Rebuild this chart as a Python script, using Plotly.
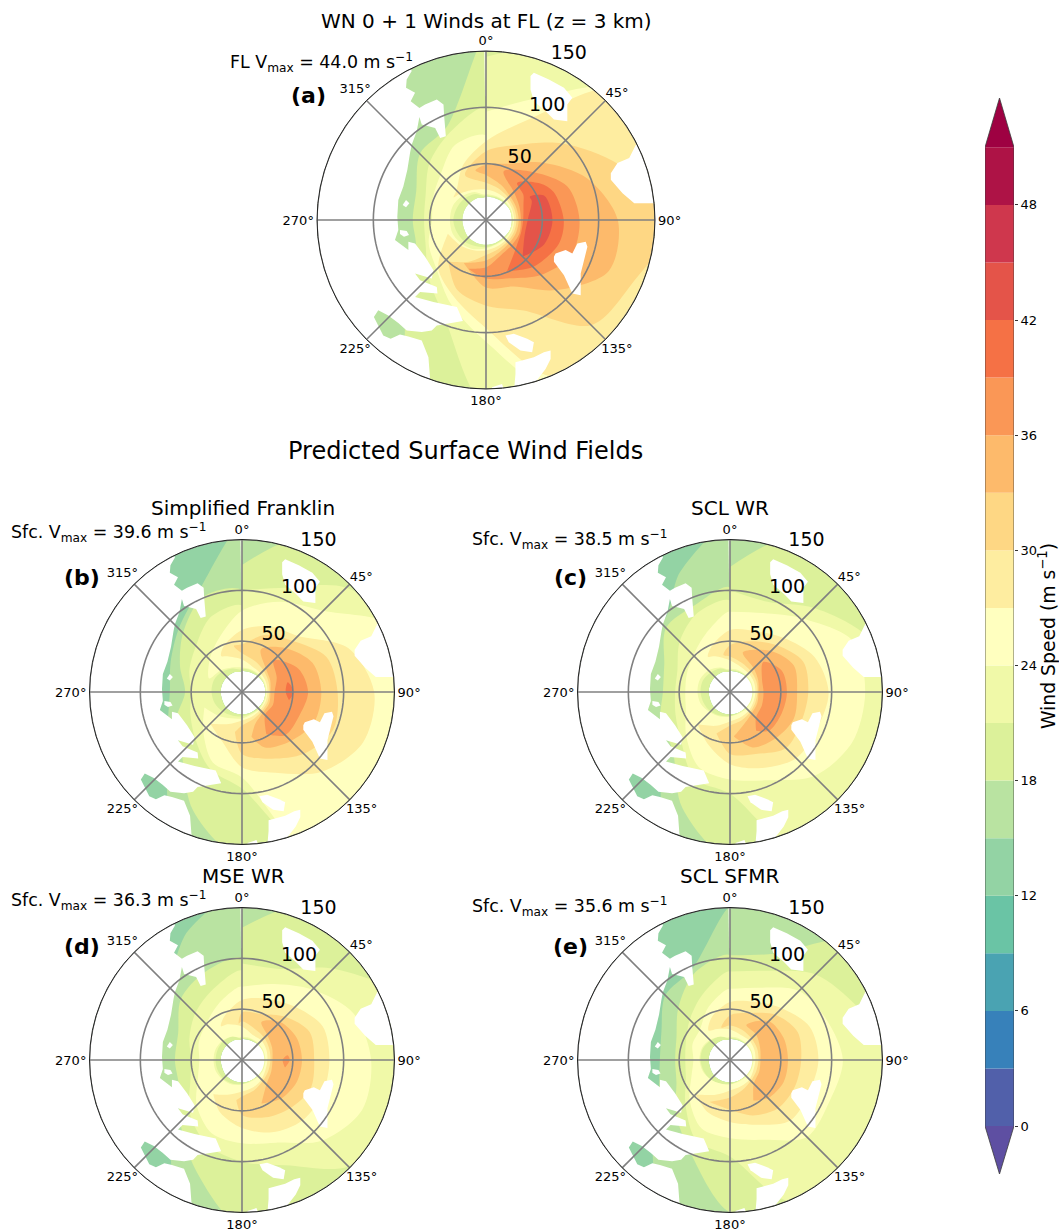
import numpy as np
import plotly.graph_objects as go
import plotly.express as px
from plotly.colors import sample_colorscale

W, H = 1059, 1232
AZ = [0, 22.5, 45, 67.5, 90, 112.5, 135, 157.5, 180, 202.5, 225, 247.5, 270, 292.5, 315, 337.5, 360]
HOLE = [21, 21, 22, 23, 23, 23, 22, 22, 22, 22, 22, 21, 21, 21, 21, 21, 21]
FAR = [165] * 17
T27 = [360, 382.5, 405, 427.5, 450, 472.5, 495, 517.5, 540]

# wind contours: level -> (azimuth, outer radius km, inner radius km)
PANEL_A = {
    15: (AZ, FAR, HOLE),
    18: (AZ, [165] * 10 + [100, 67, 65, 67, 83, 90, 165], HOLE),
    21: (AZ, [145] + [165] * 8 + [95, 72, 58, 55, 58, 71, 84, 100],
         [22, 22, 23, 23, 23, 23, 23, 23, 24, 25, 27, 28, 29, 28, 27, 25, 22]),
    24: (AZ, [96, 117, 165, 165, 165, 165, 165, 165, 108, 81, 62, 55, 48, 51, 57, 72, 75],
         [23, 23, 23.5, 24, 24, 24, 23.5, 23.5, 25, 28, 30, 32, 32, 32, 30, 27, 23]),
    27: ([305, 315, 337.5] + T27 + [562.5, 585, 610],
         [35, 37, 53, 70, 96, 165, 165, 165, 165, 165, 150, 96, 74, 60, 36],
         [35, 33, 29, 27, 26, 25.5, 25, 25, 25, 25, 25.5, 27, 29, 32, 36]),
    30: ([335] + T27 + [562.5, 582],
         [44, 61, 72, 96, 128, 165, 142, 132, 87, 76, 67, 50],
         [44, 33, 30, 28, 27, 27, 27, 27, 28, 31, 40, 50]),
    33: ([348] + T27 + [567],
         [45, 49, 54, 72, 97, 117, 118, 88, 64, 60, 43],
         [45, 40, 34, 30, 29, 29, 29, 29, 31, 36, 43]),
    36: ([20, 45, 67.5, 90, 112.5, 135, 157.5, 180, 200],
         [46, 60, 78, 83, 82, 69, 56, 52, 46], [46, 35, 32, 31, 32, 32, 34, 42, 46]),
    39: ([40, 56, 67.5, 90, 108, 135, 157.5],
         [43, 58, 65, 69, 68, 59, 49], [43, 40, 36, 33, 33, 37, 49]),
    42: ([62, 67.5, 90, 112.5, 135], [44, 56, 59, 56, 46], [44, 44, 37, 37, 46]),
}
PANEL_B = {
    12: (AZ, FAR, HOLE),
    15: (AZ, [165] * 10 + [105, 79, 71, 76, 88, 109, 165], HOLE),
    18: (AZ, [125] + [165] * 8 + [126, 84, 70, 56, 66, 82, 101, 100], HOLE),
    21: (AZ, [100, 111, 145, 165, 165, 165, 165, 165, 95, 82, 65, 55, 50, 56, 64, 80, 85],
         [23, 23, 23, 23, 23, 23, 23, 23, 24, 25, 27, 29, 30, 30, 28, 25, 23]),
    24: ([292.5, 315, 337.5] + T27 + [562.5, 585, 607.5],
         [35, 45, 58, 80, 96, 113, 165, 165, 165, 165, 165, 84, 75, 54, 40],
         [35, 30, 26, 24, 24, 24, 24, 24, 24, 24, 24, 26, 28, 33, 40]),
    27: ([330, 337.5] + T27 + [562.5, 585],
         [41, 48, 61, 70, 78, 113, 130, 129, 111, 86, 74, 52, 44],
         [41, 38, 32, 27, 26, 25.5, 25, 25, 25, 26, 28, 34, 44]),
    30: ([350] + T27 + [550],
         [46, 47, 61, 71, 90, 94, 97, 86, 71, 61, 40],
         [46, 38, 33, 30, 28, 27, 27, 27, 29, 33, 40]),
    33: ([24, 45, 67.5, 90, 112.5, 135, 157.5, 168],
         [46, 61, 75, 78, 77, 68, 59, 45], [46, 33, 30, 28, 29, 29, 34, 45]),
    36: ([45, 67.5, 90, 112.5, 135, 150], [44, 60, 65, 61, 60, 48], [44, 37, 32, 33, 32, 48]),
    39: ([78, 90, 100], [46, 51, 47], [46, 43, 47]),
}
PANEL_C = {
    12: (AZ, FAR, HOLE),
    15: (AZ, [165] * 10 + [105, 165, 165, 165, 96, 128, 165], HOLE),
    18: (AZ, [123] + [165] * 8 + [123, 80, 74, 66, 70, 89, 92, 103], HOLE),
    21: (AZ, [100, 96, 117, 145, 165, 165, 165, 165, 100, 92, 68, 58, 54, 56, 70, 84, 90],
         [22, 22, 22, 22, 22, 22, 22, 22, 24, 25, 27, 28, 29, 29, 27, 25, 22]),
    24: (AZ, [79, 84, 102, 131, 133, 130, 117, 94, 86, 80, 61, 47, 44, 46, 51, 62, 79],
         [23, 23, 23, 23, 23, 23, 23, 23, 24, 26, 28, 31, 32, 32, 30, 26, 23]),
    27: ([328, 337.5] + T27 + [562.5, 585],
         [41, 48, 61, 65, 75, 90, 97, 93, 92, 81, 71, 56, 45],
         [41, 38, 31, 27, 26, 25.5, 25, 25, 26, 27, 29, 36, 45]),
    30: ([350] + T27 + [558],
         [37, 46, 54, 65, 78, 77, 76, 78, 66, 61, 43],
         [37, 35, 31, 29, 28, 27, 27, 28, 30, 33, 43]),
    33: ([18, 45, 67.5, 90, 112.5, 135, 157.5, 175],
         [41, 57, 68, 66, 68, 64, 59, 44], [41, 33, 30, 28, 29, 30, 35, 44]),
    36: ([48, 67.5, 90, 112.5, 135, 146], [44, 55, 56, 55, 54, 46], [44, 34, 33, 34, 36, 46]),
}
PANEL_D = {
    12: (AZ, FAR, HOLE),
    15: (AZ, [165] * 10 + [108, 165, 165, 165, 110, 138, 165], HOLE),
    18: (AZ, [130] + [165] * 8 + [118, 86, 67, 66, 68, 85, 94, 100], HOLE),
    21: (AZ, [95, 97, 127, 165, 165, 165, 148, 112, 100, 90, 73, 55, 50, 56, 65, 75, 88],
         [22, 22, 22, 22, 22, 22, 22, 22, 24, 25, 26, 26, 26, 26, 26, 25, 22]),
    24: (AZ, [72, 81, 98, 119, 127, 128, 112, 88, 82, 78, 63, 47, 42, 46, 50, 60, 72],
         [23, 23, 23, 23, 23, 23, 23, 23, 24, 26, 27, 28, 28, 28, 27, 25, 23]),
    27: ([328, 337.5] + T27 + [562.5, 580],
         [39, 46, 59, 65, 74, 86, 86, 86, 84, 77, 67, 56, 44],
         [39, 38, 33, 27, 27, 26, 25, 25, 27, 29, 31, 37, 44]),
    30: ([355] + T27 + [548],
         [36, 47, 49, 60, 72, 71, 73, 67, 61, 54, 40],
         [36, 38, 33, 31, 29, 28, 28, 29, 32, 36, 40]),
    33: ([27, 45, 67.5, 90, 112.5, 135, 156], [42, 53, 58, 59, 58, 54, 47], [42, 35, 32, 30, 31, 34, 47]),
    36: ([84, 90, 100], [45, 47, 43], [45, 40, 43]),
}
PANEL_E = {
    12: (AZ, FAR, HOLE),
    15: (AZ, [165] * 10 + [108, 76, 69, 73, 90, 97, 150], HOLE),
    18: (AZ, [103, 113, 165, 165, 165, 165, 165, 165, 150, 100, 75, 57, 54, 57, 72, 92, 103], HOLE),
    21: (AZ, [87, 95, 119, 136, 165, 165, 165, 150, 95, 86, 62, 47, 44, 47, 56, 70, 87],
         [22, 22, 22, 22, 22, 22, 22, 22, 24, 25, 27, 28, 29, 29, 27, 25, 22]),
    24: (AZ, [70, 77, 96, 103, 111, 106, 107, 85, 77, 73, 56, 41, 36, 40, 42, 56, 70],
         [23, 23, 23, 23, 23, 23, 23, 23, 24, 25, 27, 29, 30, 30, 28, 25, 23]),
    27: ([324, 337.5] + T27 + [562.5, 585],
         [36, 46, 57, 62, 72, 85, 87, 84, 84, 69, 61, 56, 48],
         [36, 33, 30, 27, 27, 26, 25, 25, 27, 28, 30, 37, 48]),
    30: ([345] + T27 + [566],
         [33, 44, 50, 63, 72, 70, 69, 67, 59, 49, 46],
         [33, 34, 32, 30, 29, 28, 28, 29, 32, 37, 46]),
    33: ([25, 45, 67.5, 90, 112.5, 135, 150], [38, 54, 57, 57, 57, 53, 46], [38, 36, 32, 30, 31, 33, 46]),
}

# land / no-data outlines, east and south offsets read with the outer ring = 505 units
RING_UNITS = 505.0
LAND_WEST = [(306, 67), (335, 125), (320, 150), (318, 175), (345, 190), (332, 215), (358, 235), (375, 225), (410, 210),
             (430, 225), (432, 260), (437, 320), (420, 325), (405, 295), (365, 285), (358, 262), (350, 305), (335, 345),
             (330, 370), (322, 420), (310, 470), (295, 510), (292, 560), (295, 600), (285, 630), (325, 660), (325, 635),
             (345, 640), (375, 680), (400, 720), (395, 745), (345, 730), (360, 750), (410, 770), (412, 790), (360, 785),
             (345, 800), (400, 815), (470, 830), (488, 872), (410, 885), (395, 900), (365, 905), (320, 900), (295, 878),
             (265, 855), (235, 840), (222, 860), (250, 915), (272, 925), (300, 912), (325, 918), (365, 930), (385, 980),
             (390, 1046), (375, 1100), (161, 966), (-3, 570), (161, 174), (306, 67)]
LAND_OTHER = [
    [(318, 510), (328, 520), (318, 532), (308, 525)],
    [(300, 600), (320, 603), (327, 615), (312, 620), (300, 612)],
    [(552, 65), (556, 65), (556, 200), (554, 200)],
    [(690, 140), (700, 130), (745, 150), (790, 175), (815, 205), (800, 225), (800, 275), (760, 270), (735, 245), (700, 215), (690, 180)],
    [(1005, 345), (985, 385), (950, 400), (930, 430), (930, 450), (965, 490), (1000, 520), (1090, 520), (1090, 360)],
    [(760, 680), (765, 670), (795, 660), (815, 670), (830, 640), (855, 635), (860, 650), (850, 690), (840, 730), (840, 795), (815, 790), (790, 735), (760, 695)],
    [(615, 915), (640, 910), (680, 925), (700, 935), (695, 965), (660, 960), (625, 935)],
    [(645, 995), (700, 980), (730, 965), (750, 960), (750, 985), (735, 1015), (700, 1060), (680, 1090), (640, 1090), (645, 1030)],
    [(575, 1070), (605, 1060), (615, 1090), (575, 1090)],
]
LAND_CENTRE = (557, 570)

LEVELS = list(range(0, 51, 3))
BAND_COLOURS = sample_colorscale(px.colors.diverging.Spectral_r, [(i + 0.5) / 17 for i in range(17)])
UNDER_COLOUR, OVER_COLOUR = "#5e4fa2", "#9e0142"
CB_TICKS = [0, 6, 12, 18, 24, 30, 36, 42, 48]
RINGS = [50, 100, 150]
RING_LABEL_AZ = [22.5, 22.5, 22.5]
RING_LABELS = ["50", "100", "150"]
SPOKES = [0, 45, 90, 135, 180, 225, 270, 315]
CARDINALS = [0, 90, 180, 270]
CARDINAL_LABELS = ["0°", "90°", "180°", "270°"]
DIAGONAL_AZ = [45, 137, 223, 317]
DIAGONAL_LABELS = ["45°", "135°", "225°", "315°"]
DIAGONAL_SIDES = ["top right", "bottom right", "bottom left", "top left"]
GREY = "#808080"

PANELS = [
    ("polar", PANEL_A, (486, 220, 169)),
    ("polar2", PANEL_B, (242, 692, 152.5)),
    ("polar3", PANEL_C, (730, 692, 152.5)),
    ("polar4", PANEL_D, (242, 1060, 152.5)),
    ("polar5", PANEL_E, (730, 1060, 152.5)),
]

def land_polar(points):
    p = np.array(points, float)
    x = (p[:, 0] - LAND_CENTRE[0]) / RING_UNITS * 150
    y = (LAND_CENTRE[1] - p[:, 1]) / RING_UNITS * 150
    return np.hypot(x, y), np.degrees(np.arctan2(x, y))

fig = go.Figure()
layout = {}
for name, contours, (cx, cy, R) in PANELS:
    layout[name] = dict(
        domain=dict(x=[(cx - R) / W, (cx + R) / W], y=[1 - (cy + R) / H, 1 - (cy - R) / H]),
        bgcolor="white",
        radialaxis=dict(range=[0, 150], tickvals=RINGS, showticklabels=False, showgrid=False, showline=False, ticks=""),
        angularaxis=dict(rotation=90, direction="clockwise", tickmode="array", tickvals=CARDINALS, ticktext=CARDINAL_LABELS,
                         showgrid=False, ticks="", linecolor="#222222", linewidth=1, layer="above traces",
                         tickfont=dict(size=13, color="black", family="DejaVu Sans")),
    )
    for level, (theta, outer, inner) in contours.items():
        fig.add_trace(go.Scatterpolar(
            theta=list(theta) + list(theta)[::-1], r=list(outer) + list(inner)[::-1], subplot=name, mode="lines",
            fill="toself", fillcolor=BAND_COLOURS[LEVELS.index(level)], hoverinfo="skip", showlegend=False,
            line=dict(width=0, shape="spline", smoothing=0.9, color=BAND_COLOURS[LEVELS.index(level)])))
    for outline in [LAND_WEST] + LAND_OTHER:
        r, th = land_polar(outline)
        fig.add_trace(go.Scatterpolar(theta=th, r=r, subplot=name, mode="lines", fill="toself", fillcolor="white",
                                      line=dict(width=0, color="white"), hoverinfo="skip", showlegend=False))
    for ring in RINGS:
        th = np.arange(0, 361, 3)
        fig.add_trace(go.Scatterpolar(theta=th, r=[ring] * len(th), subplot=name, mode="lines", hoverinfo="skip",
                                      line=dict(color=GREY, width=1.6), showlegend=False))
    for spoke in SPOKES:
        fig.add_trace(go.Scatterpolar(theta=[spoke, spoke], r=[0, 150], subplot=name, mode="lines", hoverinfo="skip",
                                      line=dict(color=GREY, width=1.6), showlegend=False))
    fig.add_trace(go.Scatterpolar(theta=RING_LABEL_AZ, r=RINGS, text=RING_LABELS, subplot=name, mode="text", cliponaxis=False,
                                  textposition="top right", hoverinfo="skip", showlegend=False,
                                  textfont=dict(size=19, color="black", family="DejaVu Sans")))
    fig.add_trace(go.Scatterpolar(theta=DIAGONAL_AZ, r=[150] * 4, text=DIAGONAL_LABELS, subplot=name, mode="text", cliponaxis=False,
                                  textposition=DIAGONAL_SIDES, hoverinfo="skip", showlegend=False,
                                  textfont=dict(size=13, color="black", family="DejaVu Sans")))

# colour bar
for level, col in zip(LEVELS, BAND_COLOURS):
    fig.add_trace(go.Bar(x=[0], y=[3], base=[level], width=1, xaxis="x", yaxis="y",
                         marker=dict(color=col, line=dict(width=0)), hoverinfo="skip", showlegend=False))
for xs, ys, col in [([-0.5, 0.5, 0], [51, 51, 53.57], OVER_COLOUR), ([-0.5, 0.5, 0], [0, 0, -2.5], UNDER_COLOUR)]:
    fig.add_trace(go.Scatter(x=xs, y=ys, mode="lines", fill="toself", fillcolor=col, xaxis="x", yaxis="y",
                             line=dict(width=0), hoverinfo="skip", showlegend=False))
fig.add_trace(go.Scatter(x=[0, 0.5, 0.5, 0, -0.5, -0.5, 0], y=[53.57, 51, 0, -2.5, 0, 51, 53.57], mode="lines",
                         xaxis="x", yaxis="y", line=dict(color="rgba(60,60,60,0.8)", width=1), hoverinfo="skip", showlegend=False))

def text(x, y, s, size, anchor="center", bold=False):
    return dict(x=x / W, y=1 - y / H, xref="paper", yref="paper", text=f"<b>{s}</b>" if bold else s, showarrow=False,
                xanchor=anchor, yanchor="middle", font=dict(size=size, color="black", family="DejaVu Sans"))

VM = "V<sub>max</sub>"
SI = "m s<sup>−1</sup>"
annotations = [
    text(486, 21, "WN 0 + 1 Winds at FL (z = 3 km)", 20),
    text(465, 451, "Predicted Surface Wind Fields", 24),
    text(243, 508, "Simplified Franklin", 20),
    text(730, 508, "SCL WR", 20),
    text(243, 876, "MSE WR", 20),
    text(730, 876, "SCL SFMR", 20),
    text(228, 62, f"FL {VM} = 44.0 {SI}", 17.4, "left"),
    text(9, 532, f"Sfc. {VM} = 39.6 {SI}", 17.4, "left"),
    text(470, 539, f"Sfc. {VM} = 38.5 {SI}", 17.4, "left"),
    text(9, 900, f"Sfc. {VM} = 36.3 {SI}", 17.4, "left"),
    text(470, 906, f"Sfc. {VM} = 35.6 {SI}", 17.4, "left"),
    text(308, 95, "(a)", 22, bold=True),
    text(82, 578, "(b)", 22, bold=True),
    text(570, 578, "(c)", 22, bold=True),
    text(82, 946, "(d)", 22, bold=True),
    text(570, 946, "(e)", 22, bold=True),
]

fig.update_layout(
    width=W, height=H, autosize=False, margin=dict(l=0, r=0, t=0, b=0), paper_bgcolor="white", plot_bgcolor="white",
    showlegend=False, annotations=annotations, barmode="overlay",
    xaxis=dict(domain=[985 / W, 1014 / W], range=[-0.5, 0.5], visible=False, fixedrange=True),
    yaxis=dict(domain=[1 - 1174 / H, 1 - 98 / H], range=[-2.5, 53.57], side="right", anchor="x", tickvals=CB_TICKS,
               showgrid=False, zeroline=False, showline=False, ticks="outside", ticklen=3, tickcolor="#333333",
               tickfont=dict(size=13, color="black", family="DejaVu Sans"),
               title=dict(text=f"Wind Speed ({SI})", standoff=6, font=dict(size=18.8, color="black", family="DejaVu Sans"))),
    **layout,
)
fig.write_html("out.html", config={"displayModeBar": False},
               post_script="document.body.style.margin='0';document.documentElement.style.overflow='hidden';")
